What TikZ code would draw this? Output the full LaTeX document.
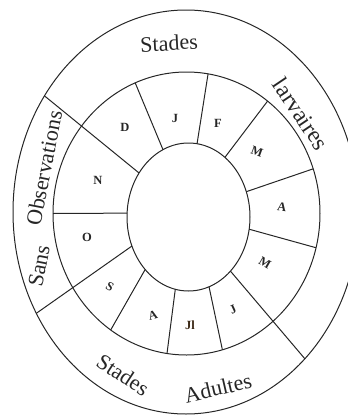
\documentclass[tikz,border=0pt]{standalone}
\usepackage{fontspec}
\setmainfont{Liberation Serif}
\usetikzlibrary{calc}
\begin{document}
\begin{tikzpicture}[x=1pt,y=-1pt,
  ring/.style={draw=black!85, line width=1pt},
  bigl/.style={font=\fontsize{22}{22}\selectfont, inner sep=0pt, text=black!85},
  mon/.style={font=\bfseries\fontsize{12.5}{12.5}\selectfont, inner sep=0pt, text=black!85}]
\useasboundingbox (0,0) rectangle (348,418);
\clip (0,0) rectangle (348,418);
\coordinate (co) at (186,212);
\coordinate (cm) at (186.5,213.5);
\coordinate (ci) at (188.5,217);
% rings
\draw[ring] (co) ellipse [x radius=173, y radius=202];
\draw[ring] (cm) ellipse [x radius=133.5, y radius=141.5];
\draw[ring] (ci) ellipse [x radius=61.5, y radius=74];
% month dividers
\foreach \a/\b in {-114.5/-112.6, -82/-80.7, -53.7/-52.6, -20/-18.4, 9.5/14,
                   70.5/74.4, 102.4/98.4, 134.8/124.6, 183/180}
  \draw[ring] ($(ci)+(\a:61.5 and 74)$) -- ($(cm)+(\b:133.5 and 141.5)$);
% sector dividers through both rings
\foreach \a/\b in {-143.5/-144.9, 47/46.6, 156.9/149.9}
  \draw[ring] ($(ci)+(\a:61.5 and 74)$) -- ($(co)+(\b:173 and 202)$);
% outer labels
\node[bigl, rotate=3] (tS) at (169,43) {Stades};
\node[bigl, rotate=-56, font=\fontsize{23.5}{23.5}\selectfont] (tL) at (301,114) {larvaires};
\node[bigl, rotate=79] (tO) at (44,168) {Observations};
\node[bigl, rotate=79] (tSa) at (39,266) {Sans};
\node[bigl, rotate=-33] (bS) at (123,375) {Stades};
\node[bigl, rotate=13] (bA) at (218,388) {Adultes};
% months
\node[mon] (mD) at (125,127) {D};
\node[mon] (mJa) at (175,118) {J};
\node[mon] (mF) at (218,123) {F};
\node[mon, rotate=-20] (mMa) at (257,152) {M};
\node[mon, rotate=-8] (mAp) at (282,207) {A};
\node[mon, rotate=-30] (mMy) at (265,263) {M};
\node[mon, rotate=25] (mJn) at (233,310) {J};
\node[mon, text=black!70!brown] (mJl) at (190,325) {Jl};
\node[mon, rotate=15] (mAu) at (153,315) {A};
\node[mon, rotate=-30] (mS) at (110,287) {S};
\node[mon] (mO) at (87,237) {O};
\node[mon] (mN) at (98,180) {N};
\end{tikzpicture}
\end{document}
